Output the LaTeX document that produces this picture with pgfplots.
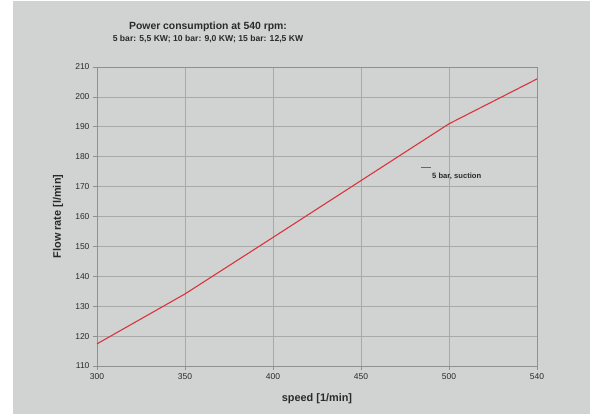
\documentclass[border=0pt]{standalone}
\usepackage{pgfplots}
\pgfplotsset{compat=1.18}
\usepackage{fontspec}
\setmainfont{Liberation Sans}
\definecolor{bg}{HTML}{D1D3D2}
\definecolor{gridc}{HTML}{A8A9A9}
\definecolor{txt}{HTML}{2A2A2A}
\definecolor{curve}{HTML}{D8353C}
\begin{document}
\begin{tikzpicture}[x=1pt,y=1pt]
\useasboundingbox (0,0) rectangle (590,414);
\fill[bg] (13,0) rectangle (590,413);
\node[font=\fontsize{10.4}{12}\selectfont\bfseries, text=txt] at (208,387) {Power consumption at 540 rpm:};
\node[font=\fontsize{8.6}{10}\selectfont\bfseries, text=txt] at (208,375) {5 bar: 5,5 KW; 10 bar: 9,0 KW; 15 bar: 12,5 KW};
\begin{axis}[
  at={(97pt,48pt)}, anchor=south west,
  scale only axis, width=440pt, height=299pt,
  xmin=0, xmax=5, ymin=110, ymax=210,
  xtick={0,...,5}, xticklabels={300,350,400,450,500,540},
  ytick={110,120,...,210},
  /pgf/number format/assume math mode=true,
  ticklabel style={font=\fontsize{8.5}{10}\selectfont, text=txt},
  grid=major, major grid style={gridc, line width=0.6pt},
  axis line style={gridc!85!black, line width=0.8pt},
  tick style={gridc!85!black, line width=0.6pt},
  tick align=outside, major tick length=4pt,
  xtick pos=bottom, ytick pos=left,
  xlabel={speed [1/min]}, ylabel={Flow rate [l/min]},
  label style={font=\fontsize{10.9}{12}\selectfont\bfseries, text=txt},
  xlabel style={at={(axis description cs:0.5,0)}, anchor=center, yshift=-33pt},
  ylabel style={at={(axis description cs:0,0.5)}, anchor=center, yshift=39pt},
]
\addplot[curve, line width=1.1pt] coordinates {
  (0,117.4) (1,134.1) (2,153.0) (3,172.0) (4,191.0) (5,206.0)
};
\end{axis}
% legend
\draw[curve, line width=1.3pt] (421,246.3) -- (431,246.3);
\node[anchor=west, inner sep=0pt, font=\fontsize{7.6}{9}\selectfont\bfseries, text=txt] at (432,238) {5 bar, suction};
\end{tikzpicture}
\end{document}
